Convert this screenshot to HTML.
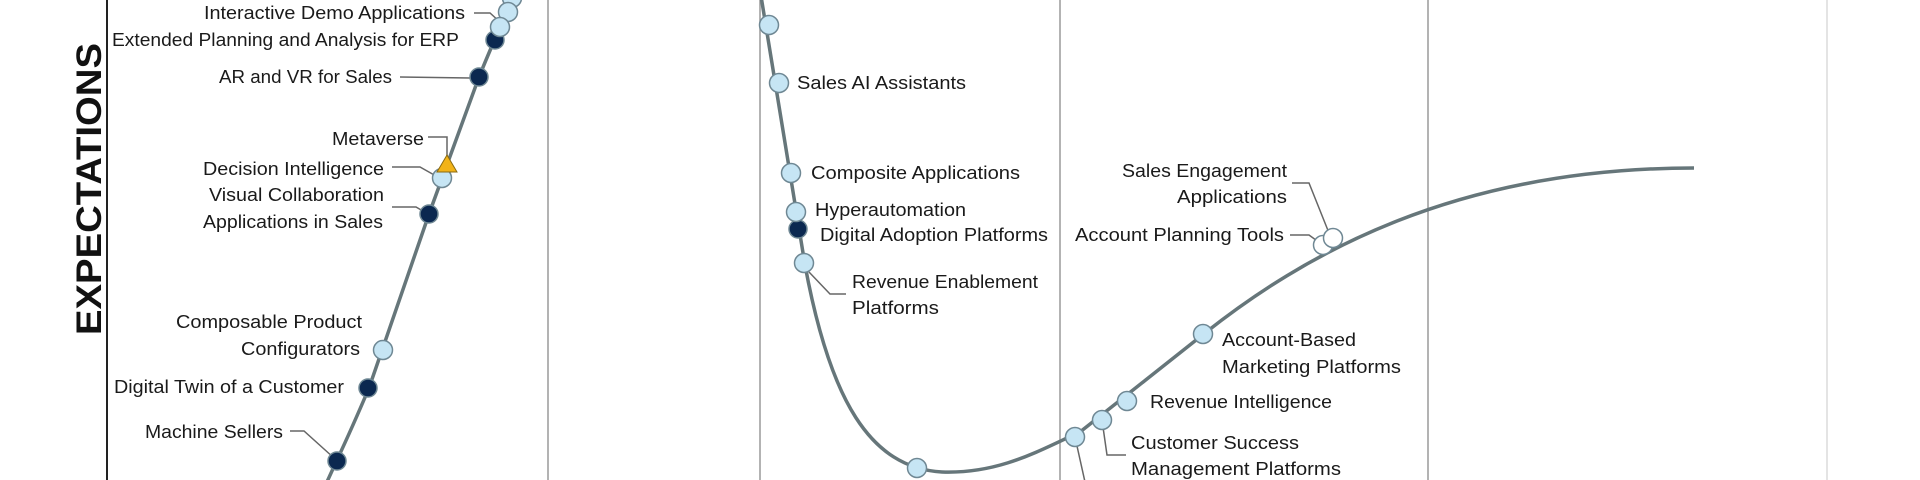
<!DOCTYPE html>
<html><head><meta charset="utf-8"><style>
html,body{margin:0;padding:0;background:#fff;}
svg{display:block;}
text{font-family:"Liberation Sans Narrow","Liberation Sans",sans-serif;font-size:18px;fill:#1a1a1a;}
</style></head><body>
<svg width="1920" height="480" viewBox="0 0 1920 480" xmlns="http://www.w3.org/2000/svg">
<rect width="1920" height="480" fill="#fff"/>
<line x1="107" y1="0" x2="107" y2="480" stroke="#222" stroke-width="2"/>
<line x1="548" y1="0" x2="548" y2="480" stroke="#9a9a9a" stroke-width="1.5"/>
<line x1="760" y1="0" x2="760" y2="480" stroke="#9a9a9a" stroke-width="1.5"/>
<line x1="1060" y1="0" x2="1060" y2="480" stroke="#9a9a9a" stroke-width="1.5"/>
<line x1="1428" y1="0" x2="1428" y2="480" stroke="#9a9a9a" stroke-width="1.5"/>
<line x1="1827" y1="0" x2="1827" y2="480" stroke="#dcdcdc" stroke-width="1.5"/>
<text transform="translate(101,189) rotate(-90)" text-anchor="middle" style="font-family:'Liberation Sans',sans-serif;font-size:35px;font-weight:bold;fill:#111" textLength="292" lengthAdjust="spacingAndGlyphs">EXPECTATIONS</text>

<g fill="none" stroke="#66767a" stroke-width="3.5">
<path d="M326,484 L337,460 Q352,428 369,388 L429,214 L479,77 Q494,40 514,-4"/>
<path d="M761,-4 L805,265 C830,400 870,468 942,472 C1000,474 1040,450 1080,432 L1205,333 C1300,258 1450,168 1694,168"/>
</g>

<g fill="none" stroke="#666" stroke-width="1.5">
<polyline points="474,13 490,13 500,22"/>
<polyline points="400,77 470,78"/>
<polyline points="428,137 447,137 447,160"/>
<polyline points="392,167 420,167 436,176"/>
<polyline points="392,207 416,207 428,214"/>
<polyline points="290,431 304,431 334,458"/>
<polyline points="809,272 830,294 846,294"/>
<polyline points="1292,183 1309,183 1329,233"/>
<polyline points="1290,235 1309,235 1320,243"/>
<polyline points="1102,420 1107,455 1126,455"/>
<polyline points="1075,437 1085,482"/>
</g>

<g stroke="#6f8894" stroke-width="1.5">
<circle cx="512" cy="-2" r="9.5" fill="#c6e5f4"/>
<circle cx="508" cy="12" r="9.5" fill="#c6e5f4"/>
<circle cx="495" cy="40" r="9" fill="#0b2850"/>
<circle cx="500" cy="27" r="9.5" fill="#c6e5f4"/>
<circle cx="479" cy="77" r="9" fill="#0b2850"/>
<circle cx="442" cy="178" r="9.5" fill="#c6e5f4"/>
<circle cx="429" cy="214" r="9" fill="#0b2850"/>
<circle cx="383" cy="350" r="9.5" fill="#c6e5f4"/>
<circle cx="368" cy="388" r="9" fill="#0b2850"/>
<circle cx="337" cy="461" r="9" fill="#0b2850"/>
<circle cx="769" cy="25" r="9.5" fill="#c6e5f4"/>
<circle cx="779" cy="83" r="9.5" fill="#c6e5f4"/>
<circle cx="791" cy="173" r="9.5" fill="#c6e5f4"/>
<circle cx="798" cy="229" r="9" fill="#0b2850"/>
<circle cx="796" cy="212" r="9.5" fill="#c6e5f4"/>
<circle cx="804" cy="263" r="9.5" fill="#c6e5f4"/>
<circle cx="917" cy="468" r="9.5" fill="#c6e5f4"/>
<circle cx="1075" cy="437" r="9.5" fill="#c6e5f4"/>
<circle cx="1102" cy="420" r="9.5" fill="#c6e5f4"/>
<circle cx="1127" cy="401" r="9.5" fill="#c6e5f4"/>
<circle cx="1203" cy="334" r="9.5" fill="#c6e5f4"/>
<circle cx="1323" cy="245" r="9.5" fill="#fff"/>
<circle cx="1333" cy="238" r="9.5" fill="#fff"/>
</g>
<polygon points="447,155 437,172 457,172" fill="#f2b318" stroke="#8a6a10" stroke-width="1"/>

<text x="204" y="19" textLength="261" lengthAdjust="spacingAndGlyphs">Interactive Demo Applications</text>
<text x="112" y="46" textLength="347" lengthAdjust="spacingAndGlyphs">Extended Planning and Analysis for ERP</text>
<text x="219" y="83" textLength="173" lengthAdjust="spacingAndGlyphs">AR and VR for Sales</text>
<text x="332" y="145" textLength="92" lengthAdjust="spacingAndGlyphs">Metaverse</text>
<text x="203" y="175" textLength="181" lengthAdjust="spacingAndGlyphs">Decision Intelligence</text>
<text x="209" y="201" textLength="175" lengthAdjust="spacingAndGlyphs">Visual Collaboration</text>
<text x="203" y="228" textLength="180" lengthAdjust="spacingAndGlyphs">Applications in Sales</text>
<text x="176" y="328" textLength="186" lengthAdjust="spacingAndGlyphs">Composable Product</text>
<text x="241" y="355" textLength="119" lengthAdjust="spacingAndGlyphs">Configurators</text>
<text x="114" y="393" textLength="230" lengthAdjust="spacingAndGlyphs">Digital Twin of a Customer</text>
<text x="145" y="438" textLength="138" lengthAdjust="spacingAndGlyphs">Machine Sellers</text>
<text x="797" y="89" textLength="169" lengthAdjust="spacingAndGlyphs">Sales AI Assistants</text>
<text x="811" y="179" textLength="209" lengthAdjust="spacingAndGlyphs">Composite Applications</text>
<text x="815" y="216" textLength="151" lengthAdjust="spacingAndGlyphs">Hyperautomation</text>
<text x="820" y="241" textLength="228" lengthAdjust="spacingAndGlyphs">Digital Adoption Platforms</text>
<text x="852" y="288" textLength="186" lengthAdjust="spacingAndGlyphs">Revenue Enablement</text>
<text x="852" y="314" textLength="87" lengthAdjust="spacingAndGlyphs">Platforms</text>
<text x="1122" y="177" textLength="165" lengthAdjust="spacingAndGlyphs">Sales Engagement</text>
<text x="1177" y="203" textLength="110" lengthAdjust="spacingAndGlyphs">Applications</text>
<text x="1075" y="241" textLength="209" lengthAdjust="spacingAndGlyphs">Account Planning Tools</text>
<text x="1222" y="346" textLength="134" lengthAdjust="spacingAndGlyphs">Account-Based</text>
<text x="1222" y="373" textLength="179" lengthAdjust="spacingAndGlyphs">Marketing Platforms</text>
<text x="1150" y="408" textLength="182" lengthAdjust="spacingAndGlyphs">Revenue Intelligence</text>
<text x="1131" y="449" textLength="168" lengthAdjust="spacingAndGlyphs">Customer Success</text>
<text x="1131" y="475" textLength="210" lengthAdjust="spacingAndGlyphs">Management Platforms</text>
</svg>
</body></html>
